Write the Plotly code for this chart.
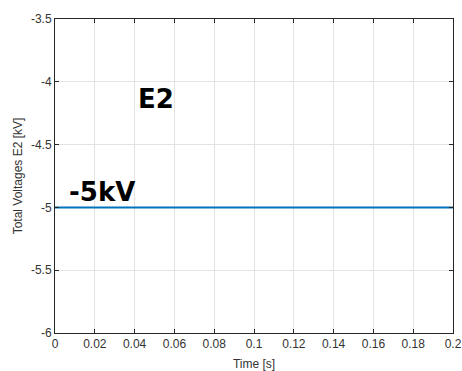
import plotly.graph_objects as go

time_s = [0.0, 0.2]
voltage_kv = [-5.0, -5.0]
x_ticks = [0, 0.02, 0.04, 0.06, 0.08, 0.1, 0.12, 0.14, 0.16, 0.18, 0.2]
x_labels = ["0", "0.02", "0.04", "0.06", "0.08", "0.1", "0.12", "0.14", "0.16", "0.18", "0.2"]
y_ticks = [-6, -5.5, -5, -4.5, -4, -3.5]
y_labels = ["-6", "-5.5", "-5", "-4.5", "-4", "-3.5"]

fig = go.Figure()
fig.add_trace(go.Scatter(x=time_s, y=voltage_kv, mode="lines",
                         line=dict(color="#0072BD", width=2), showlegend=False))

tfont = dict(family="Liberation Sans, Arial", size=12, color="#333333")
axis_common = dict(showline=True, linecolor="#262626", linewidth=1, mirror="ticks",
                   ticks="inside", ticklen=4, tickcolor="#262626", automargin=False,
                   showgrid=True, gridcolor="#E3E3E3", gridwidth=1, zeroline=False,
                   tickfont=tfont)

fig.update_xaxes(range=[0, 0.2], tickvals=x_ticks, ticktext=x_labels,
                 title=dict(text="Time [s]", font=tfont, standoff=10),
                 **axis_common)
fig.update_yaxes(range=[-6, -3.5], tickvals=y_ticks, ticktext=y_labels,
                 title=dict(text="Total Voltages E2 [kV]", font=tfont, standoff=5),
                 **axis_common)

fig.add_annotation(x=0.0505, y=-4.14, xref="x", yref="y", text="<b>E2</b>", showarrow=False,
                   font=dict(family="DejaVu Sans", size=26, color="black"))
fig.add_annotation(x=0.0234, y=-4.88, xref="x", yref="y", text="<b>-5kV</b>", showarrow=False,
                   font=dict(family="DejaVu Sans", size=26, color="black"))

fig.update_layout(width=462, height=371, margin=dict(l=55, r=9, t=19, b=38),
                  plot_bgcolor="white", paper_bgcolor="white")
fig.write_html("out.html")
